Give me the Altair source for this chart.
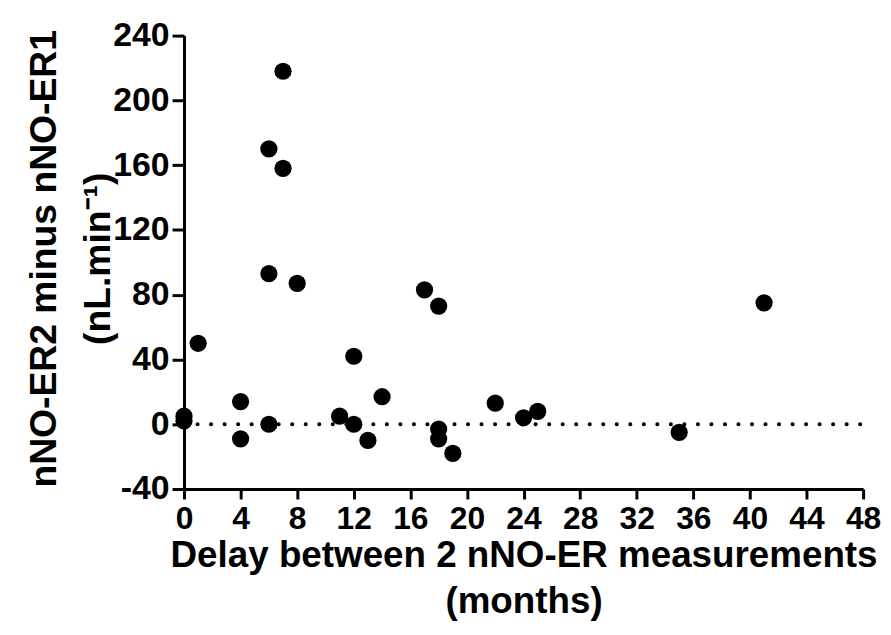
import altair as alt
import pandas as pd

delay_months = [0, 0, 1, 4, 4, 6, 6, 6, 7, 7, 8, 11, 12, 12, 13, 14, 17, 18, 18, 18, 19, 22, 24, 25, 35, 41]
diff_values = [5, 2, 50, 14, -9, 170, 93, 0, 218, 158, 87, 5, 42, 0, -10, 17, 83, 73, -3, -9, -18, 13, 4, 8, -5, 75]

x_ticks = list(range(0, 49, 4))
y_ticks = list(range(-40, 241, 40))

df = pd.DataFrame({"delay": delay_months, "diff": diff_values})
ref = pd.DataFrame({"x0": [0], "x1": [48], "y": [0]})

FONT = "Liberation Sans"
HYPHEN_LABEL = "datum.value < 0 ? '-' + abs(datum.value) : '' + datum.value"

xscale = alt.Scale(domain=[0, 48], nice=False, zero=False)
yscale = alt.Scale(domain=[-40, 240], nice=False, zero=False)

xaxis = alt.Axis(
    values=x_ticks, grid=False, domainColor="black", domainWidth=3,
    tickColor="black", tickWidth=3, tickSize=10, labelPadding=5,
    labelFont=FONT, labelFontWeight="bold", labelFontSize=32, labelColor="black",
    title=["Delay between 2 nNO-ER measurements", "(months)"],
    titleFont=FONT, titleFontWeight="bold", titleFontSize=37, titleColor="black",
    titleLineHeight=46, titleBaseline="top", titleY=49, titleX=341.5,
    labelFlush=False,
)
yaxis = alt.Axis(
    values=y_ticks, grid=False, domainColor="black", domainWidth=3,
    tickColor="black", tickWidth=3, tickSize=12, labelPadding=3,
    labelFont=FONT, labelFontWeight="bold", labelFontSize=34, labelColor="black",
    labelExpr=HYPHEN_LABEL,
    title=["nNO-ER2 minus nNO-ER1", "(nL.min⁻¹)"],
    titleFont=FONT, titleFontWeight="bold", titleFontSize=37.5, titleColor="black",
    titleLineHeight=54, titleBaseline="bottom", titleX=-121, titleY=224, titleAngle=-90,
    labelFlush=False,
)

points = alt.Chart(df).mark_circle(size=300, color="black", opacity=1).encode(
    x=alt.X("delay:Q", scale=xscale, axis=xaxis),
    y=alt.Y("diff:Q", scale=yscale, axis=yaxis),
)

zero_line = alt.Chart(ref).mark_rule(
    color="black", strokeWidth=4, strokeDash=[0.1, 13.5], strokeCap="round"
).encode(
    x=alt.X("x0:Q", scale=xscale),
    x2="x1:Q",
    y=alt.Y("y:Q", scale=yscale),
)

chart = alt.layer(zero_line, points).properties(
    width=683, height=456,
    autosize=alt.AutoSizeParams(type="none"),
    padding={"left": 177, "top": 26, "right": 20, "bottom": 137},
).configure_view(stroke=None)

chart.save("out.html", embed_options={"renderer": "svg", "actions": False})
